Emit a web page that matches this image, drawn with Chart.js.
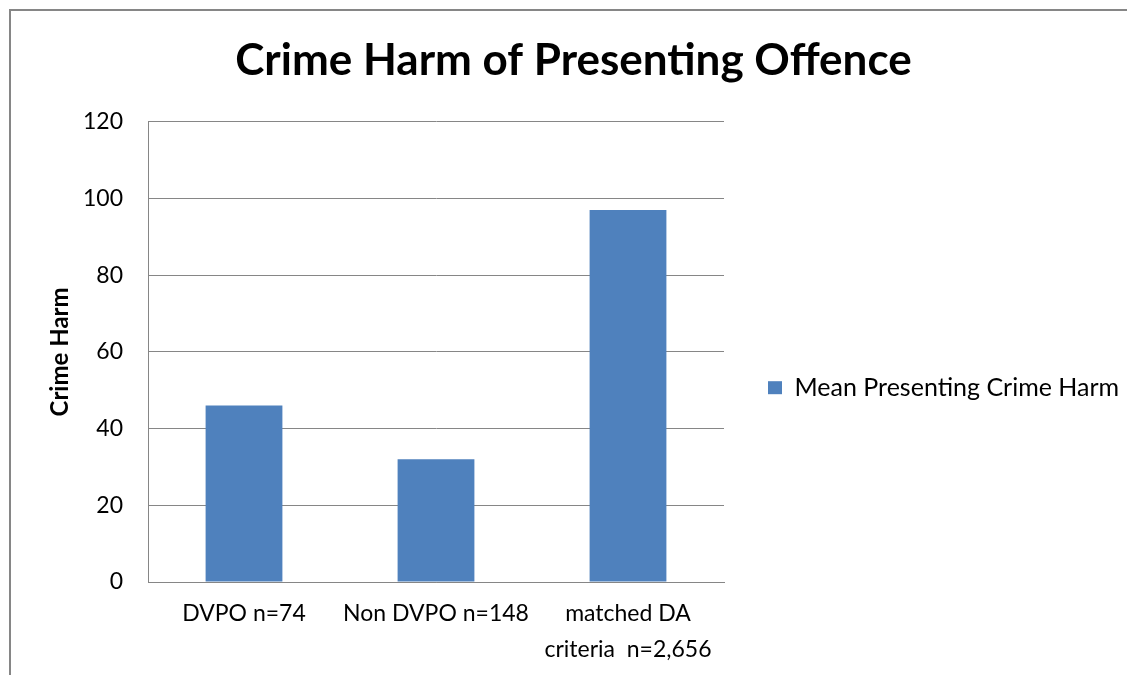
<!DOCTYPE html>
<html>
<head>
<meta charset="utf-8">
<title>Crime Harm of Presenting Offence</title>
<script src="https://cdn.jsdelivr.net/npm/chart.js@4.4.1/dist/chart.umd.min.js"></script>
<style>
  html, body { margin: 0; padding: 0; background: #fff; overflow: hidden; }
  #wrap { width: 1127px; height: 675px; }
</style>
</head>
<body>
<div id="wrap"><canvas id="harmChart"></canvas></div>
<script>
// chart data
var categories = ['DVPO n=74', 'Non DVPO n=148', ['matched DA', 'criteria  n=2,656']];
var meanHarm = [46, 32, 97];
var seriesName = 'Mean Presenting Crime Harm';
var yTicks = [0, 20, 40, 60, 80, 100, 120];

var FONT = 'Lato, "Open Sans", sans-serif';
var GREY = '#868686';
var BLUE = '#4F81BD';

// thin frame round the whole chart object
var framePlugin = {
  id: 'frame',
  beforeDraw: function(chart) {
    var ctx = chart.ctx;
    ctx.save();
    ctx.fillStyle = '#fff';
    ctx.fillRect(0, 0, chart.width, chart.height);
    ctx.strokeStyle = GREY;
    ctx.lineWidth = 2;
    ctx.strokeRect(10, 10, chart.width + 20, chart.height + 20);
    ctx.restore();
  }
};

new Chart(document.getElementById('harmChart'), {
  type: 'bar',
  data: {
    labels: categories,
    datasets: [{
      label: seriesName,
      data: meanHarm,
      backgroundColor: BLUE,
      borderWidth: 0,
      categoryPercentage: 1,
      barPercentage: 0.4
    }]
  },
  options: {
    responsive: true,
    maintainAspectRatio: false,
    animation: false,
    layout: { padding: { left: 20, right: 0, top: 10, bottom: 0 } },
    plugins: {
      title: {
        display: true,
        text: 'Crime Harm of Presenting Offence',
        color: '#000',
        font: { family: FONT, size: 44, weight: 'bold', lineHeight: 1.2 },
        padding: { top: 24, bottom: 35 }
      },
      legend: {
        position: 'right',
        maxWidth: 403,
        // empty title only pushes the entry down a bit
        title: { display: true, text: '', padding: { top: 38, bottom: 38 } },
        labels: {
          color: '#000',
          font: { family: FONT, size: 25 },
          boxWidth: 14,
          boxHeight: 13,
          padding: 44
        }
      },
      tooltip: { enabled: false }
    },
    scales: {
      x: {
        afterFit: function(scale) { scale.height = 93; },
        grid: { display: false, drawTicks: false },
        border: { color: GREY, width: 1 },
        ticks: {
          color: '#000',
          font: { family: FONT, size: 23, lineHeight: 1.56 },
          padding: 14,
          maxRotation: 0,
          autoSkip: false
        }
      },
      y: {
        min: 0,
        max: 120,
        afterBuildTicks: function(scale) {
          scale.ticks = yTicks.map(function(v) { return { value: v }; });
        },
        afterFit: function(scale) { scale.width = 128; },
        grid: { color: GREY, drawTicks: false },
        border: { color: GREY, width: 1 },
        ticks: {
          color: '#000',
          font: { family: FONT, size: 23 },
          padding: 25
        },
        title: {
          display: true,
          text: 'Crime Harm',
          color: '#000',
          font: { family: FONT, size: 24, weight: 'bold' },
          padding: { top: 26, bottom: 10 }
        }
      }
    }
  },
  plugins: [framePlugin]
});
</script>
</body>
</html>
